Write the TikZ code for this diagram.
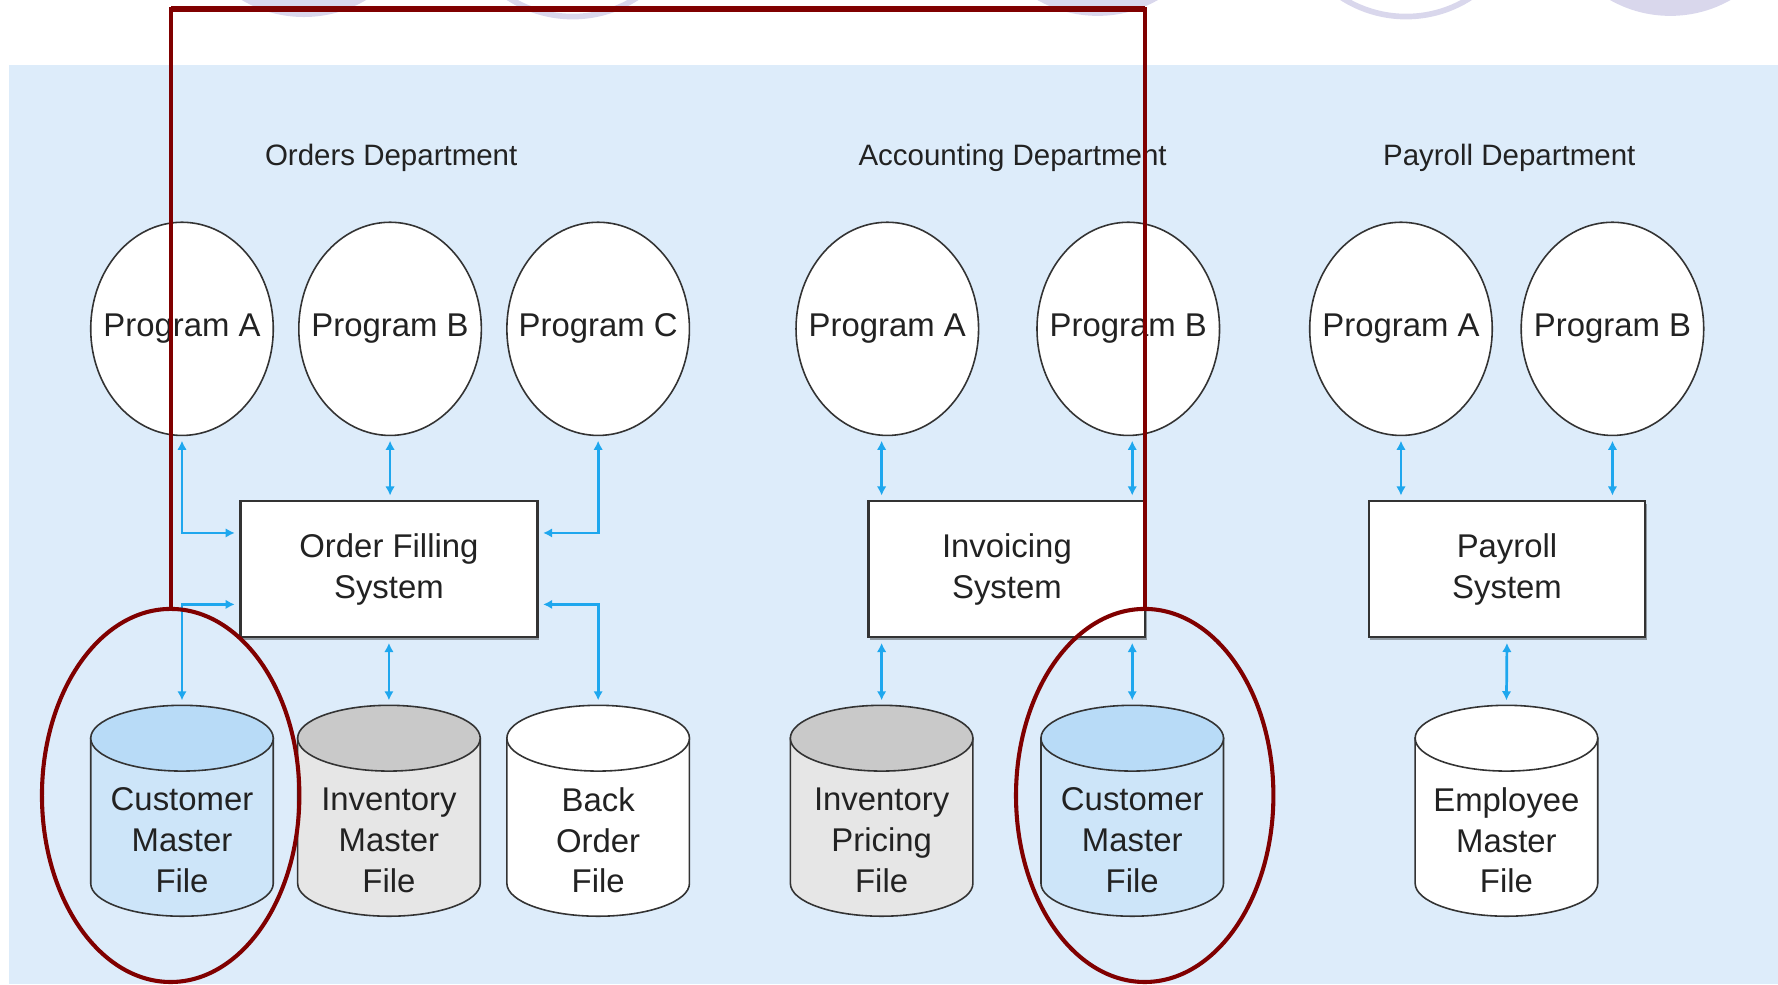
\documentclass[tikz,border=0pt]{standalone}
\usepackage{fontspec}
\setmainfont{Liberation Sans}
\usetikzlibrary{shapes.geometric,arrows.meta,shadows}

\definecolor{bgblue}{HTML}{DDECFA}
\definecolor{linkblue}{HTML}{1EA7EE}
\definecolor{custtop}{HTML}{B8DBF7}
\definecolor{custbody}{HTML}{CDE5F9}
\definecolor{invtop}{HTML}{C9C9C9}
\definecolor{invbody}{HTML}{E6E6E6}
\definecolor{markred}{HTML}{800000}
\definecolor{lavender}{HTML}{D9D7EC}
\definecolor{edge}{HTML}{333333}
\definecolor{ink}{HTML}{222222}

\newcommand{\labelfont}{\fontsize{14.5}{18}\selectfont}
\newcommand{\progname}[1]{\makebox[0pt]{#1}}

\tikzset{
  prog/.style={ellipse, draw=edge, line width=0.7pt, fill=white, text=ink,
    minimum width=80.5pt, minimum height=94pt, inner sep=0pt, font=\labelfont},
  sysbox/.style={rectangle, draw=edge, line width=1pt, fill=white, text=ink,
    minimum height=60pt, align=center, font=\labelfont,
    drop shadow={shadow xshift=0.6pt, shadow yshift=-1.2pt, fill=black, opacity=0.35}},
  cylnode/.style={minimum width=80.5pt, minimum height=119pt, inner sep=0pt,
    align=center, text=ink, font=\labelfont},
  cylline/.style={draw=edge, line width=0.7pt},
  link/.style={linkblue, line width=1.2pt,
    {Latex[length=4pt,width=4.2pt]}-{Latex[length=4pt,width=4.2pt]},
    shorten <=2pt, shorten >=2pt},
  dept/.style={font=\fontsize{13}{15}\selectfont, text=ink},
  hilite/.style={ellipse, draw=markred, line width=1.8pt,
    minimum width=113.5pt, minimum height=164.5pt, inner sep=0pt},
}

% file drum: name, x, body colour, top colour, text
\newcommand{\filecyl}[5]{%
  \filldraw[cylline,fill=#3] (#2-80.5,-651) -- (#2-80.5,-779)
    arc[start angle=180,end angle=360,x radius=80.5,y radius=29] -- (#2+80.5,-651) -- cycle;
  \filldraw[cylline,fill=#4] (#2,-651) ellipse [x radius=80.5, y radius=29];
  \node[cylnode] (#1) at (#2,-741) {#5};
}

\begin{document}
\begin{tikzpicture}[x=0.5pt,y=0.5pt]
\useasboundingbox (0,0) rectangle (1568,-868);
\fill[bgblue] (8,-57) rectangle (1568,-868);

% slide decoration at the top
\begin{scope}
\clip (0,0) rectangle (1568,-868);
\fill[lavender] (268,93) circle [radius=108];
\fill[lavender] (968,94) circle [radius=108];
\fill[lavender] (1473,94) circle [radius=108];
\draw[lavender, line width=2.5pt] (505,90.4) circle [radius=105];
\draw[lavender, line width=2.5pt] (1240,90.4) circle [radius=105];
\end{scope}

% departments
\node[dept] (ordersdept) at (345,-139) {Orders Department};
\node[dept] (acctdept) at (893,-139) {Accounting Department};
\node[dept] (paydept) at (1331,-139) {Payroll Department};

% programs
\node[prog] (oprogA) at (160.5,-290) {\progname{Program A}};
\node[prog] (oprogB) at (344,-290) {\progname{Program B}};
\node[prog] (oprogC) at (527.5,-290) {\progname{Program C}};
\node[prog] (aprogA) at (782.5,-290) {\progname{Program A}};
\node[prog] (aprogB) at (995,-290) {\progname{Program B}};
\node[prog] (pprogA) at (1235.5,-290) {\progname{Program A}};
\node[prog] (pprogB) at (1422,-290) {\progname{Program B}};

% systems
\node[sysbox, minimum width=131pt] (orderfill) at (343,-502) {Order Filling\\System};
\node[sysbox, minimum width=122pt] (invoicing) at (888,-502) {Invoicing\\System};
\node[sysbox, minimum width=122pt] (payroll) at (1329,-502) {Payroll\\System};

% files
\filecyl{ocust}{160.5}{custbody}{custtop}{Customer\\Master\\File}
\filecyl{oinv}{343}{invbody}{invtop}{Inventory\\Master\\File}
\filecyl{oback}{527.5}{white}{white}{Back\\Order\\File}
\filecyl{ainv}{777.5}{invbody}{invtop}{Inventory\\Pricing\\File}
\filecyl{acust}{998.5}{custbody}{custtop}{Customer\\Master\\File}
\filecyl{pemp}{1328.5}{white}{white}{Employee\\Master\\File}

% data flows
\draw[link] (oprogA.south) |- ([yshift=16pt]orderfill.west);
\draw[link] (oprogB.south) -- (oprogB.south |- orderfill.north);
\draw[link] (oprogC.south) |- ([yshift=16pt]orderfill.east);
\draw[link] ([yshift=-15.5pt]orderfill.west) -| (ocust.north);
\draw[link] (oinv.north |- orderfill.south) -- (oinv.north);
\draw[link] ([yshift=-15.5pt]orderfill.east) -| (oback.north);
\draw[link] (ainv.north |- aprogA.south) -- (ainv.north |- invoicing.north);
\draw[link] (acust.north |- aprogB.south) -- (acust.north |- invoicing.north);
\draw[link] (ainv.north |- invoicing.south) -- (ainv.north);
\draw[link] (acust.north |- invoicing.south) -- (acust.north);
\draw[link] (pprogA.south) -- (pprogA.south |- payroll.north);
\draw[link] (pprogB.south) -- (pprogB.south |- payroll.north);
\draw[link] (payroll.south) -- (pemp.north);

% highlight
\node[hilite] (markA) at (150.5,-701.5) {};
\node[hilite] (markB) at (1009.5,-701.5) {};
\draw[markred, line width=1.8pt] (markA.north) -- (markA.north |- 0,-8) -| (markB.north);
\draw[markred, line width=3pt] (151,-8) -- (1009.5,-8);
\end{tikzpicture}
\end{document}
